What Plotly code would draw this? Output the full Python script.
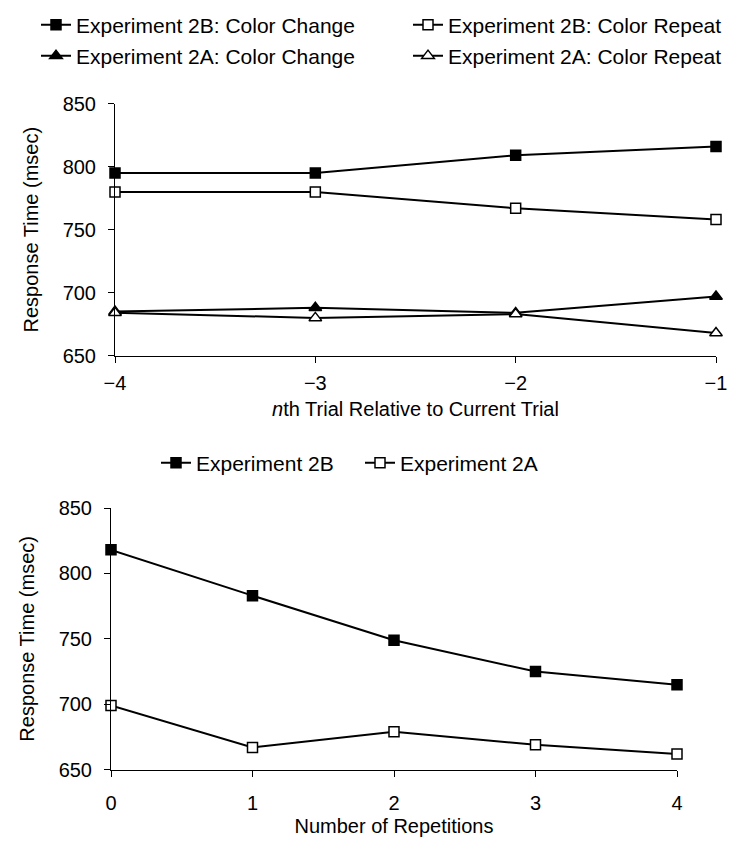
import plotly.graph_objects as go

# ---- data ----
trial_x = [-4, -3, -2, -1]
trial_labels = ["\u22124", "\u22123", "\u22122", "\u22121"]
exp2b_change = [795, 795, 809, 816]
exp2b_repeat = [780, 780, 767, 758]
exp2a_change = [685, 688, 684, 697]
exp2a_repeat = [684, 680, 683, 668]

reps_x = [0, 1, 2, 3, 4]
exp2b_reps = [818, 783, 749, 725, 715]
exp2a_reps = [699, 667, 679, 669, 662]

y_ticks = [650, 700, 750, 800, 850]

FONT = "Liberation Sans, Arial, sans-serif"
W, H = 741, 842

fig = go.Figure()

def add(x, y, name, symbol, fill, size, xa, ya, legend):
    fig.add_trace(go.Scatter(
        x=x, y=y, name=name, mode="lines+markers",
        line=dict(color="black", width=2),
        marker=dict(symbol=symbol, size=size, color=fill,
                    line=dict(color="black", width=1.5)),
        xaxis=xa, yaxis=ya, legend=legend, cliponaxis=False))

add(trial_x, exp2b_change, "Experiment 2B: Color Change", "square", "black", 10, "x", "y", "legend2")
add(trial_x, exp2b_repeat, "Experiment 2B: Color Repeat", "square", "white", 10, "x", "y", "legend3")
add(trial_x, exp2a_change, "Experiment 2A: Color Change", "triangle-up", "black", 11, "x", "y", "legend4")
add(trial_x, exp2a_repeat, "Experiment 2A: Color Repeat", "triangle-up", "white", 11, "x", "y", "legend5")
add(reps_x, exp2b_reps, "Experiment 2B", "square", "black", 10, "x2", "y2", "legend6")
add(reps_x, exp2a_reps, "Experiment 2A", "square", "white", 10, "x2", "y2", "legend7")

axis_common = dict(showline=True, linecolor="black", linewidth=1, ticks="outside",
                   ticklen=6, tickcolor="black", tickwidth=1, showgrid=False,
                   zeroline=False, tickfont=dict(family=FONT, size=20, color="black"),
                   title_font=dict(family=FONT, size=20, color="black"))

def leg(xpx, ypx):
    return dict(orientation="h", x=xpx / W, y=1 - ypx / H, xanchor="left",
                yanchor="middle", font=dict(family=FONT, size=21, color="black"),
                bgcolor="rgba(0,0,0,0)", borderwidth=0)

fig.update_layout(
    width=W, height=H, margin=dict(l=0, r=0, t=0, b=0, autoexpand=False),
    paper_bgcolor="white", plot_bgcolor="white", showlegend=True,
    font=dict(family=FONT, size=20, color="black"),
    xaxis=dict(domain=[107/W, 708/W], range=[-4, -1], tickvals=trial_x,
               ticktext=trial_labels, anchor="y", ticklabelstandoff=3,
               title=dict(text="<i>n</i>th Trial Relative to Current Trial", standoff=9),
               **axis_common),
    yaxis=dict(domain=[(H-347.7)/H, (H-95.7)/H], range=[650, 850], tickvals=y_ticks,
               anchor="x", ticklabelstandoff=8,
               title=dict(text="Response Time (msec)", standoff=18),
               **axis_common),
    xaxis2=dict(domain=[103/W, 669/W], range=[0, 4], tickvals=reps_x, anchor="y2",
                ticklabelstandoff=9,
                title=dict(text="Number of Repetitions", standoff=6), **axis_common),
    yaxis2=dict(domain=[(H-761.7)/H, (H-500)/H], range=[650, 850], tickvals=y_ticks,
                anchor="x2", ticklabelstandoff=8,
                title=dict(text="Response Time (msec)", standoff=18),
                **axis_common),
    legend2=leg(28, 17),
    legend3=leg(400, 17),
    legend4=leg(28, 48),
    legend5=leg(400, 48),
    legend6=leg(148, 455),
    legend7=leg(352, 455),
)

fig.write_html("out.html")
